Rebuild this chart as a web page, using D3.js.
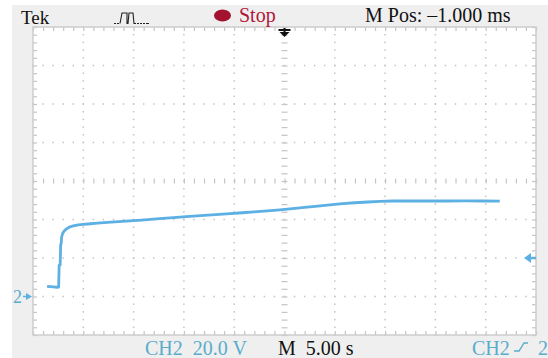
<!DOCTYPE html>
<html>
<head>
<meta charset="utf-8">
<script src="https://cdn.jsdelivr.net/npm/d3@7/dist/d3.min.js"></script>
<style>
  html, body { margin: 0; padding: 0; background: #ffffff; }
  svg { display: block; }
  text { font-family: "Liberation Serif", "DejaVu Serif", serif; }
</style>
</head>
<body>
<svg id="scope" width="548" height="358"></svg>
<script>
// CH2 acquisition: time in seconds relative to trigger, volts above ground
const timeS = [-23.6, -23.0, -22.6, -22.45, -22.4, -22.3, -22.25, -22.2, -22.15, -22.05, -21.9, -21.7,
  -21.4, -21.0, -20.5, -20.0, -19.3, -18.6, -17.6, -16.5, -15.4, -14.2, -13.0, -12.1, -11.0,
  -9.8, -8.7, -7.6, -6.5, -5.4, -4.2, -3.0, -1.7, -0.45, 0.8, 2.0, 3.3, 4.5, 5.8, 7.0, 8.3,
  9.5, 10.8, 12.0, 13.3, 14.5, 16.2, 18.0, 19.7, 21.4];
const ch2Volts = [5.3, 5.0, 4.8, 4.9, 16.2, 16.4, 27.0, 27.4, 31.0, 32.8, 34.0, 35.0,
  36.0, 36.7, 37.2, 37.5, 37.8, 38.1, 38.5, 38.9, 39.3, 39.7, 40.2, 40.6, 41.0,
  41.5, 41.9, 42.3, 42.7, 43.1, 43.5, 44.0, 44.5, 45.0, 45.6, 46.3, 47.0, 47.6, 48.2, 48.7, 49.1,
  49.4, 49.6, 49.6, 49.7, 49.6, 49.6, 49.7, 49.6, 49.5];

const timeDomain = [-25, 25];     // 10 div x 5.00 s
const voltDomain = [-20, 140];    // 8 div x 20.0 V, ground 1 div above bottom
const timeMajor = d3.range(-25, 25.001, 5);
const timeMinor = d3.range(-25, 25.001, 1);
const voltMajor = d3.range(-20, 140.001, 20);
const voltMinor = d3.range(-20, 140.001, 4);
const triggerLevel = 20;

const headerLeft = "Tek";
const headerState = "Stop";
const headerPos = "M Pos: \u20131.000 ms";
const footerScale = "CH2  20.0 V";
const footerTime = "M  5.00 s";
const footerTrig = "CH2";

const svg = d3.select("#scope");
const W = 548, H = 358;
const frame = { left: 33, right: 536, top: 27, bottom: 335 };

const x = d3.scaleLinear().domain(timeDomain).range([frame.left, frame.right]);
const y = d3.scaleLinear().domain(voltDomain).range([frame.bottom, frame.top]);

const gridColor = "#c4c4c4";
const traceColor = "#5cb0e4";
const labelBlue = "#5aaccb";

// panel background
svg.append("rect").attr("x", 12).attr("y", 5).attr("width", W - 12).attr("height", H - 5)
  .attr("fill", "#efefef");
svg.append("rect").attr("x", frame.left).attr("y", frame.top)
  .attr("width", frame.right - frame.left).attr("height", frame.bottom - frame.top)
  .attr("fill", "#ffffff");

// dotted graticule on the major divisions
const grid = svg.append("g").attr("fill", gridColor);
timeMajor.slice(1, -1).filter(t => t !== 0).forEach(t => {
  voltMinor.forEach(v => {
    grid.append("rect").attr("x", x(t) - 0.75).attr("y", y(v) - 0.75)
      .attr("width", 1.5).attr("height", 1.5);
  });
});
voltMajor.slice(1, -1).filter(v => v !== 60).forEach(v => {
  timeMinor.forEach(t => {
    grid.append("rect").attr("x", x(t) - 0.75).attr("y", y(v) - 0.75)
      .attr("width", 1.5).attr("height", 1.5);
  });
});

// axes used as minor tick rulers along the frame and centre lines
function ruler(axis, transform, size) {
  const g = svg.append("g").attr("transform", transform)
    .call(axis.tickSize(size).tickFormat(""));
  g.select(".domain").remove();
  g.selectAll(".tick line").attr("stroke", gridColor).attr("stroke-width", 1.2);
  return g;
}
ruler(d3.axisBottom(x).tickValues(timeMinor), `translate(0,${frame.top})`, 4);
ruler(d3.axisTop(x).tickValues(timeMinor), `translate(0,${frame.bottom})`, 4);
ruler(d3.axisRight(y).tickValues(voltMinor), `translate(${frame.left},0)`, 4);
ruler(d3.axisLeft(y).tickValues(voltMinor), `translate(${frame.right},0)`, 4);
ruler(d3.axisBottom(x).tickValues(timeMinor), `translate(0,${y(60) - 2.5})`, 5);
ruler(d3.axisRight(y).tickValues(voltMinor), `translate(${x(0) - 3},0)`, 6);

// frame border
svg.append("rect").attr("x", frame.left).attr("y", frame.top)
  .attr("width", frame.right - frame.left).attr("height", frame.bottom - frame.top)
  .attr("fill", "none").attr("stroke", "#cdcdcd").attr("stroke-width", 1.5);

// CH2 trace
const trace = timeS.map((t, i) => [t, ch2Volts[i]]);
svg.append("path").datum(trace)
  .attr("fill", "none").attr("stroke", traceColor).attr("stroke-width", 2.8)
  .attr("stroke-linejoin", "round")
  .attr("d", d3.line().x(d => x(d[0])).y(d => y(d[1])));

// trigger position marker (top, black)
const tx = x(0);
svg.append("path")
  .attr("d", `M${tx - 6},${frame.top + 3} H${tx + 6} M${tx},${frame.top + 1} V${frame.top + 6}`)
  .attr("stroke", "#111").attr("stroke-width", 2);
svg.append("path")
  .attr("d", `M${tx - 5},${frame.top + 5} L${tx + 5},${frame.top + 5} L${tx},${frame.top + 10} Z`)
  .attr("fill", "#111");

// trigger level marker (right, blue)
const ty = y(triggerLevel);
svg.append("path")
  .attr("d", `M${frame.right - 12},${ty} L${frame.right - 5},${ty - 5} L${frame.right - 5},${ty + 5} Z`)
  .attr("fill", traceColor);
svg.append("line").attr("x1", frame.right - 6).attr("x2", frame.right).attr("y1", ty).attr("y2", ty)
  .attr("stroke", traceColor).attr("stroke-width", 2.5);

// ground marker (left)
const gy = y(0);
svg.append("text").attr("x", 13).attr("y", gy + 6).attr("font-size", 18)
  .attr("fill", labelBlue).text("2");
svg.append("path")
  .attr("d", `M${frame.left - 1},${gy} L${frame.left - 7},${gy - 3.5} L${frame.left - 7},${gy + 3.5} Z`)
  .attr("fill", traceColor);
svg.append("line").attr("x1", frame.left - 10).attr("x2", frame.left - 5).attr("y1", gy).attr("y2", gy)
  .attr("stroke", traceColor).attr("stroke-width", 1.5);

// header
svg.append("text").attr("x", 21).attr("y", 24).attr("font-size", 19).attr("fill", "#111").text(headerLeft);
svg.append("path")
  .attr("d", "M114,23.5 H116 M117,23.5 H119 M120,23.5 L122,13 H127 V23.5 H128 L129,13 H133 L134,23.5 H136 M137,23.5 H139 M140,23.5 H142 M143,23.5 H145 M146,23.5 H149")
  .attr("fill", "none").attr("stroke", "#222").attr("stroke-width", 1.1);
svg.append("ellipse").attr("cx", 222.5).attr("cy", 15.5).attr("rx", 8.5).attr("ry", 6).attr("fill", "#a3132f");
svg.append("text").attr("x", 239).attr("y", 22).attr("font-size", 20).attr("fill", "#b01638").text(headerState);
svg.append("text").attr("x", 365).attr("y", 22).attr("font-size", 20).attr("fill", "#111").text(headerPos);

// footer
svg.append("text").attr("x", 145).attr("y", 355).attr("font-size", 20).attr("fill", labelBlue)
  .style("white-space", "pre").text(footerScale);
svg.append("text").attr("x", 278).attr("y", 355).attr("font-size", 20).attr("fill", "#111")
  .style("white-space", "pre").text(footerTime);
svg.append("text").attr("x", 472).attr("y", 355).attr("font-size", 20).attr("fill", labelBlue).text(footerTrig);
svg.append("path").attr("d", "M514,351 H519 L524,343 H528")
  .attr("fill", "none").attr("stroke", labelBlue).attr("stroke-width", 1.4);
svg.append("text").attr("x", 538).attr("y", 355).attr("font-size", 20).attr("fill", labelBlue).text("2");
</script>
</body>
</html>
